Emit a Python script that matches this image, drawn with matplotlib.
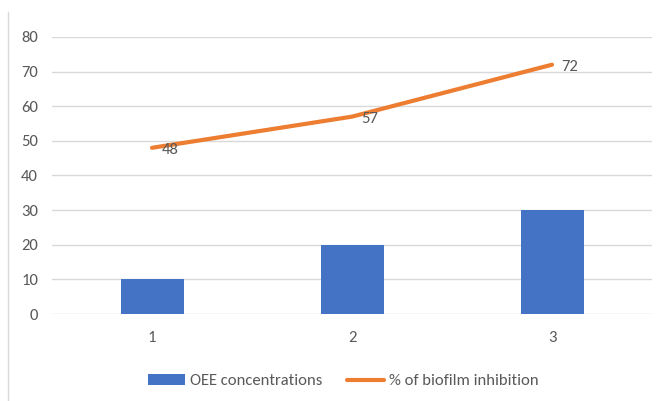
import matplotlib.pyplot as plt
from matplotlib.lines import Line2D

categories = ["1", "2", "3"]
oee_concentrations = [10, 20, 30]
biofilm_inhibition = [48, 57, 72]
y_ticks = [0, 10, 20, 30, 40, 50, 60, 70, 80]

plt.rcParams["font.family"] = ["Carlito", "Fira Sans Semi Condensed",
                               "Lato", "DejaVu Sans"]

text_color = "#595959"
blue = "#4472C4"
orange = "#ED7D31"

fig = plt.figure(figsize=(6.64, 4.01), dpi=100)
ax = fig.add_axes([52 / 664, 1 - 314 / 401, 600 / 664, 277 / 401])

x = list(range(len(categories)))
bars = ax.bar(x, oee_concentrations, width=0.315, color=blue, zorder=2,
              label="OEE concentrations")
line, = ax.plot(x, biofilm_inhibition, color=orange, lw=3, solid_capstyle="round",
                zorder=3, label="% of biofilm inhibition")
for xi, v in zip(x, biofilm_inhibition):
    ax.annotate(str(v), (xi, v), xytext=(7, -1.5), textcoords="offset points",
                ha="left", va="center", fontsize=12, color=text_color)

ax.set_xlim(-0.5, 2.5)
ax.set_ylim(0, 80)
ax.set_yticks(y_ticks)
ax.set_xticks(x)
ax.set_xticklabels(categories)
ax.yaxis.grid(True, color="#d9d9d9", lw=1, zorder=0)
ax.set_axisbelow(True)
for side in ["top", "right", "left", "bottom"]:
    ax.spines[side].set_visible(False)
ax.tick_params(axis="both", length=0, labelsize=12, labelcolor=text_color)
ax.tick_params(axis="y", pad=10)
ax.tick_params(axis="x", pad=12)

fig.legend([bars, line], ["OEE concentrations", "% of biofilm inhibition"],
           loc="center left", bbox_to_anchor=(133 / 664, 1 - 381 / 401), ncol=2,
           frameon=False, fontsize=12, labelcolor=text_color,
           handlelength=2.2, handleheight=0.6, handletextpad=0.3,
           columnspacing=1.5)

fig.add_artist(Line2D([8 / 664, 8 / 664], [0, 1 - 12 / 401],
                      color="#d9d9d9", lw=1))

fig.savefig("out.png", dpi=100)
